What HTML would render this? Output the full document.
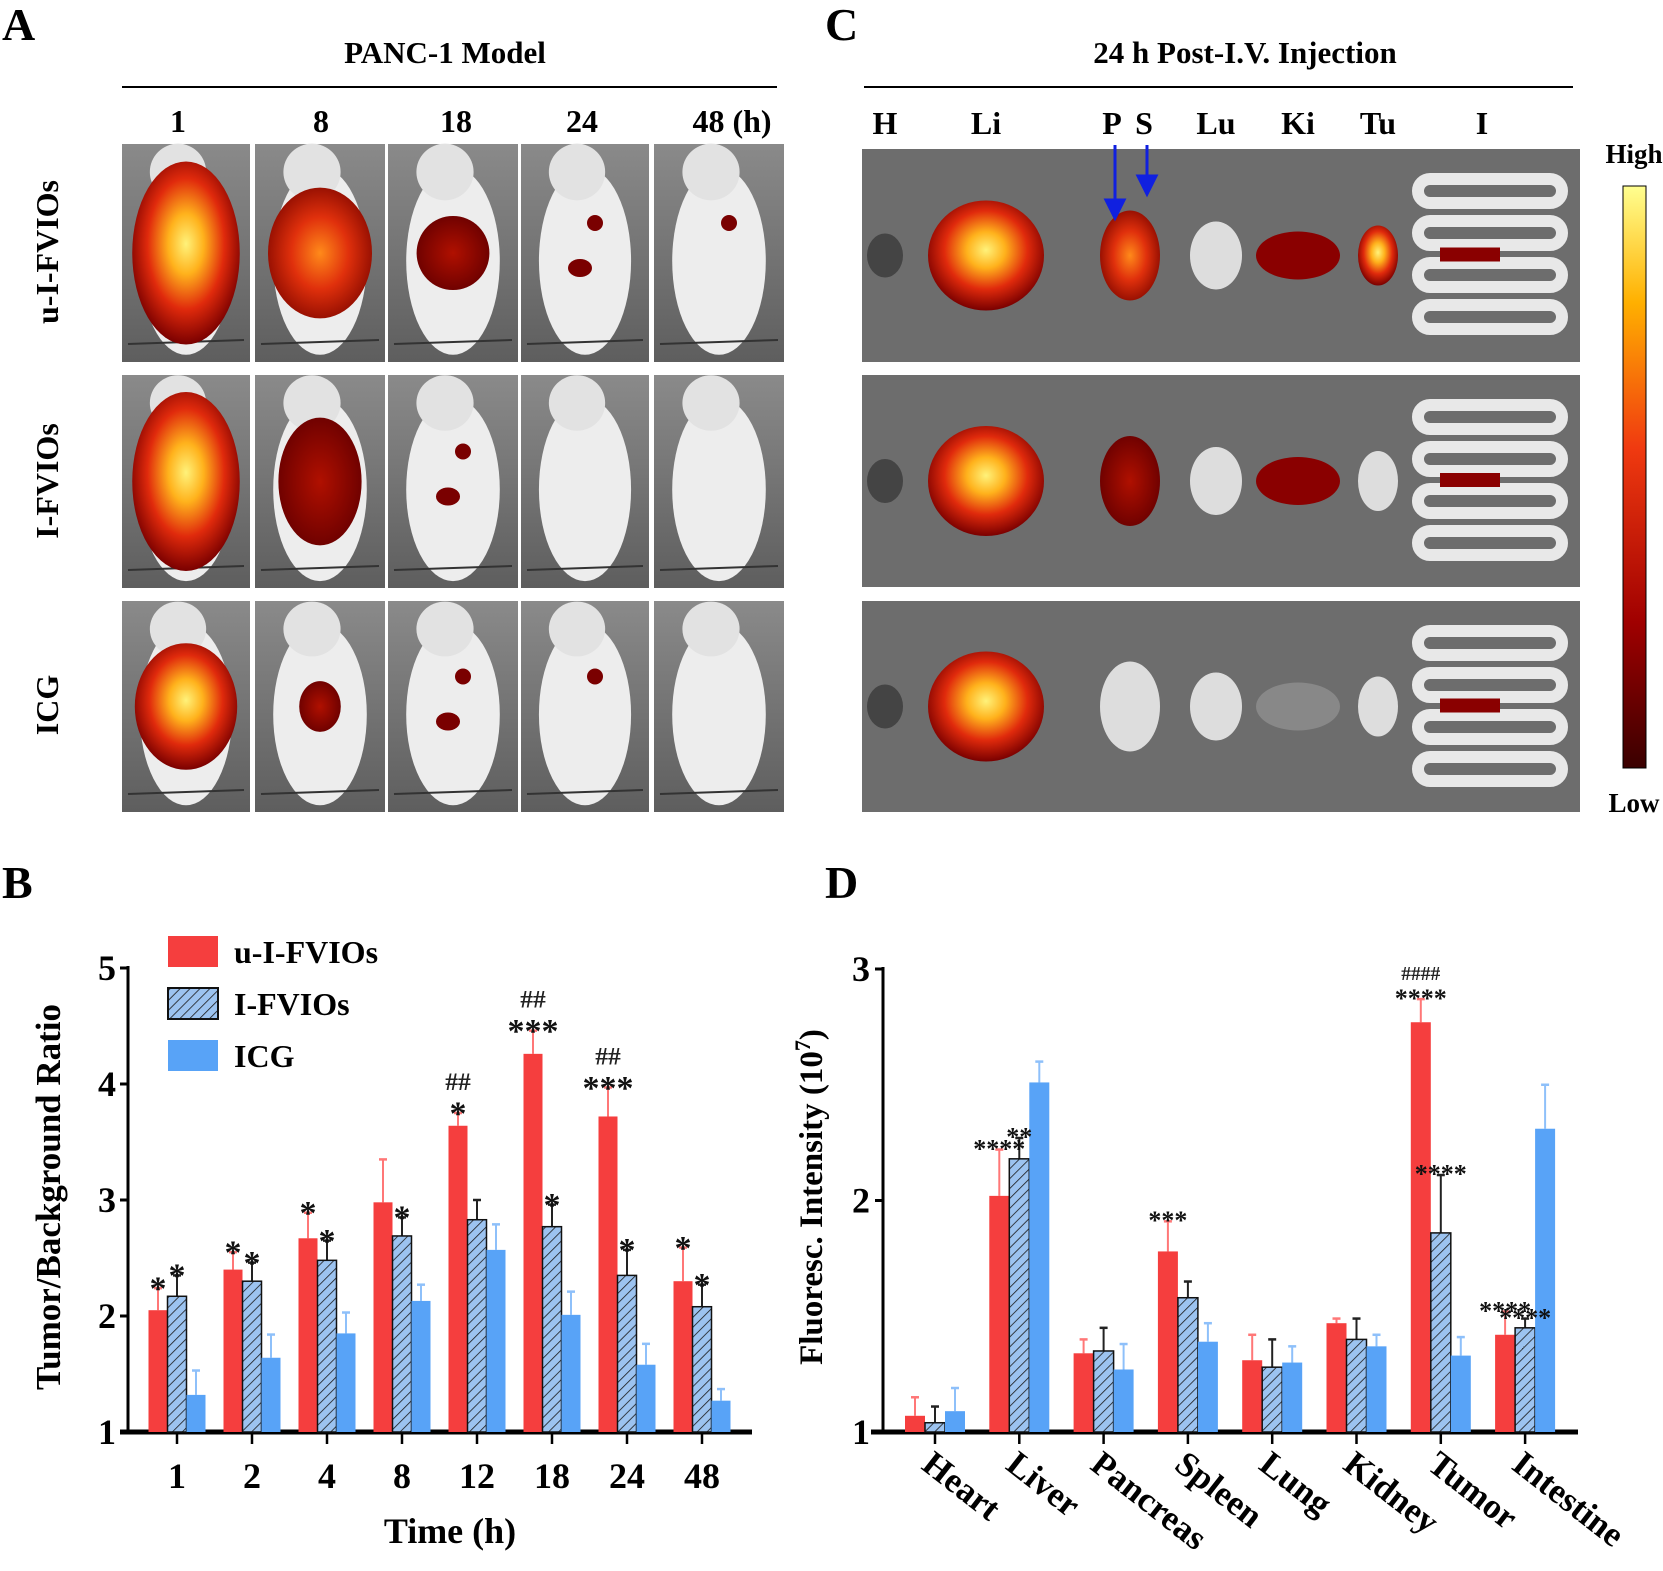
<!DOCTYPE html>
<html><head><meta charset="utf-8"><style>
html,body{margin:0;padding:0;background:#fff}
svg{display:block;font-family:"Liberation Serif",serif;font-weight:bold}
</style></head><body>
<svg id="fig" width="1663" height="1571" viewBox="0 0 1663 1571" xmlns="http://www.w3.org/2000/svg">
<defs>
<pattern id="hatch" patternUnits="userSpaceOnUse" width="7" height="7" patternTransform="rotate(45)">
<rect width="7" height="7" fill="#9cc3f0"/><line x1="0" y1="0" x2="0" y2="7" stroke="#1a1a1a" stroke-width="1.6"/>
</pattern>
<radialGradient id="hot" cx="50%" cy="45%" r="55%"><stop offset="0" stop-color="#fff27a"/><stop offset="0.3" stop-color="#ffb21c"/><stop offset="0.65" stop-color="#e02a0c"/><stop offset="1" stop-color="#7a0000"/></radialGradient>
<radialGradient id="warm" cx="50%" cy="50%" r="55%"><stop offset="0" stop-color="#ff8a1a"/><stop offset="0.5" stop-color="#e0300c"/><stop offset="1" stop-color="#8a0a00"/></radialGradient>
<radialGradient id="dark" cx="50%" cy="50%" r="55%"><stop offset="0" stop-color="#b01000"/><stop offset="1" stop-color="#6a0000"/></radialGradient>
<linearGradient id="cbar" x1="0" y1="0" x2="0" y2="1"><stop offset="0" stop-color="#ffff90"/><stop offset="0.2" stop-color="#ffb000"/><stop offset="0.45" stop-color="#f03a10"/><stop offset="0.75" stop-color="#a00000"/><stop offset="1" stop-color="#3a0000"/></linearGradient>
<linearGradient id="bgA" x1="0" y1="0" x2="0" y2="1"><stop offset="0" stop-color="#8a8a8a"/><stop offset="1" stop-color="#5e5e5e"/></linearGradient>
</defs>

<text x="2" y="40" font-size="46">A</text>
<text x="825" y="40" font-size="46">C</text>
<text x="2" y="898" font-size="46">B</text>
<text x="825" y="898" font-size="46">D</text>

<text x="445" y="63" font-size="31" text-anchor="middle">PANC-1 Model</text>
<line x1="122" y1="87" x2="777" y2="87" stroke="#000" stroke-width="2"/>
<g font-size="32" text-anchor="middle">
<text x="178" y="132">1</text><text x="321" y="132">8</text><text x="456" y="132">18</text><text x="582" y="132">24</text><text x="732" y="132">48 (h)</text>
</g>
<g font-size="32" text-anchor="middle">
<text transform="translate(58,252) rotate(-90)">u-I-FVIOs</text>
<text transform="translate(58,481) rotate(-90)">I-FVIOs</text>
<text transform="translate(58,705) rotate(-90)">ICG</text>
</g>
<g id="mice"></g>

<text x="1245" y="63" font-size="31" text-anchor="middle">24 h Post-I.V. Injection</text>
<line x1="864" y1="87" x2="1573" y2="87" stroke="#000" stroke-width="2"/>
<g font-size="32" text-anchor="middle">
<text x="885" y="134">H</text><text x="986" y="134">Li</text><text x="1112" y="134">P</text><text x="1144" y="134">S</text><text x="1216" y="134">Lu</text><text x="1298" y="134">Ki</text><text x="1378" y="134">Tu</text><text x="1482" y="134">I</text>
</g>
<g id="organs"></g>
<g stroke="#1020e0" stroke-width="3" fill="#1020e0">
<line x1="1115" y1="145" x2="1115" y2="205"/><polygon points="1106,200 1124,200 1115,218"/>
<line x1="1147" y1="145" x2="1147" y2="180"/><polygon points="1138,176 1156,176 1147,194"/>
</g>
<rect x="1623" y="186" width="23" height="582" fill="url(#cbar)" stroke="#000" stroke-width="1"/>
<text x="1634" y="163" font-size="27" text-anchor="middle">High</text>
<text x="1634" y="812" font-size="27" text-anchor="middle">Low</text>

<g id="chartB"></g>
<g id="chartD"></g>
</svg>
<script>
const timeLabels = ["1","2","4","8","12","18","24","48"];
const bRed = [2.05,2.40,2.67,2.98,3.64,4.26,3.72,2.30];
const bRedErr = [2.24,2.55,2.89,3.35,3.75,4.46,3.97,2.59];
const bHatch = [2.17,2.30,2.48,2.69,2.83,2.77,2.35,2.08];
const bHatchErr = [2.35,2.46,2.65,2.85,3.00,2.96,2.57,2.27];
const bIcg = [1.32,1.64,1.85,2.13,2.57,2.01,1.58,1.27];
const bIcgErr = [1.53,1.84,2.03,2.27,2.79,2.21,1.76,1.37];
const bTicks = [1,2,3,4,5];
const bRedStars = ["*","*","*","","*","***","***","*"];
const bRedHash = ["","","","","##","##","##",""];
const bHatchStars = ["*","*","*","*","","*","*","*"];
const organs = ["Heart","Liver","Pancreas","Spleen","Lung","Kidney","Tumor","Intestine"];
const dRed = [1.07,2.02,1.34,1.78,1.31,1.47,2.77,1.42];
const dRedErr = [1.15,2.22,1.40,1.91,1.42,1.49,2.87,1.52];
const dHatch = [1.04,2.18,1.35,1.58,1.28,1.40,1.86,1.45];
const dHatchErr = [1.11,2.27,1.45,1.65,1.40,1.49,2.11,1.49];
const dIcg = [1.09,2.51,1.27,1.39,1.30,1.37,1.33,2.31];
const dIcgErr = [1.19,2.60,1.38,1.47,1.37,1.42,1.41,2.50];
const dTicks = [1,2,3];
const dRedStars = ["","****","","***","","","****","****"];
const dRedHash = ["","","","","","","####",""];
const dHatchStars = ["","**","","","","","****","****"];

const NS="http://www.w3.org/2000/svg";
function mk(parent,tag,attrs,text){const e=document.createElementNS(NS,tag);for(const k in attrs)e.setAttribute(k,attrs[k]);if(text!==undefined)e.textContent=text;parent.appendChild(e);return e;}

const RED="#f53e3e", BLUE="#58a3f7";
function drawBars(g,cfg){
  const {xC,y,bw,series,stars,hash,starSize}=cfg;
  series.forEach((s,si)=>{
    s.vals.forEach((v,i)=>{
      const x=xC(i)+(si-1)*bw-bw/2;
      const top=y(s.errs[i]);
      const el=mk(g,'line',{x1:x+bw/2,x2:x+bw/2,y1:y(v),y2:top,stroke:s.ecol,'stroke-width':2});
      
      
      const cap=mk(g,'line',{x1:x+bw/2-4,x2:x+bw/2+4,y1:top,y2:top,stroke:s.ecol,'stroke-width':2.5});
      
      
      const r=mk(g,'rect',{x:x,y:y(v),width:bw,height:y(cfg.base)-y(v),fill:s.fill,stroke:s.stroke||'none','stroke-width':s.stroke?1.5:0});
      
      
    });
  });
  [0,1].forEach(si=>{
    const s=series[si];const st=stars[si];
    s.vals.forEach((v,i)=>{
      const cx=xC(i)+(si-1)*bw;const top=y(s.errs[i]);
      if(st[i]){const t=mk(g,'text',{x:cx,y:top-4+starSize*0.45,'font-size':starSize,'text-anchor':'middle',fill:'#111'},st[i]);
        
        }
      if(si===0&&hash[i]){const h=mk(g,'text',{x:cx,y:top-6-starSize*0.5,'font-size':starSize*0.75,'text-anchor':'middle',fill:'#222'},hash[i]);
        
        }
    });
  });
}

(function(){
  const g=document.getElementById('chartB');
  const y=v=>1432-(v-1)*116; const xC=i=>177+i*75;
  mk(g,'line',{x1:128,x2:128,y1:966,y2:1432,stroke:'#000','stroke-width':3});
  mk(g,'line',{x1:120,x2:752,y1:1432,y2:1432,stroke:'#000','stroke-width':5});
  bTicks.forEach(t=>{
    mk(g,'line',{x1:120,x2:128,y1:y(t),y2:y(t),stroke:'#000','stroke-width':3});
    const tl=mk(g,'text',{x:116,y:y(t)+12,'font-size':36,'text-anchor':'end'},String(t));
    
    
  });
  timeLabels.forEach((l,i)=>{
    mk(g,'line',{x1:xC(i),x2:xC(i),y1:1432,y2:1444,stroke:'#000','stroke-width':2.5});
    const t=mk(g,'text',{x:xC(i),y:1488,'font-size':36,'text-anchor':'middle'},l);
    
    
  });
  const xt=mk(g,'text',{x:450,y:1543,'font-size':36,'text-anchor':'middle'},'Time (h)');
  
  
  const yt=mk(g,'text',{transform:'translate(60,1197) rotate(-90)','font-size':35,'text-anchor':'middle'},'Tumor/Background Ratio');
  
  
  drawBars(g,{xC,y,bw:19,base:1,starSize:34,
    series:[{name:'u-i-fvios',vals:bRed,errs:bRedErr,fill:RED,ecol:'#f77'},
            {name:'i-fvios',vals:bHatch,errs:bHatchErr,fill:'url(#hatch)',stroke:'#111',ecol:'#222'},
            {name:'icg',vals:bIcg,errs:bIcgErr,fill:BLUE,ecol:'#8ec0fa'}],
    stars:[bRedStars,bHatchStars],hash:bRedHash});
  const items=[['u-I-FVIOs',RED,null],['I-FVIOs','url(#hatch)','#111'],['ICG',BLUE,null]];
  items.forEach((it,k)=>{
    const yy=936+k*52;
    const r=mk(g,'rect',{x:168,y:yy,width:50,height:31,fill:it[1],stroke:it[2]||'none','stroke-width':2});
    
    
    const t=mk(g,'text',{x:234,y:yy+27,'font-size':32},it[0]);
    
    
  });
})();

(function(){
  const g=document.getElementById('chartD');
  const y=v=>1432-(v-1)*231.5; const xC=i=>935+i*84.3;
  mk(g,'line',{x1:883,x2:883,y1:967,y2:1432,stroke:'#000','stroke-width':3});
  mk(g,'line',{x1:871,x2:1578,y1:1432,y2:1432,stroke:'#000','stroke-width':5});
  dTicks.forEach(t=>{
    mk(g,'line',{x1:875,x2:883,y1:y(t),y2:y(t),stroke:'#000','stroke-width':3});
    const tl=mk(g,'text',{x:870,y:y(t)+12,'font-size':36,'text-anchor':'end'},String(t));
    
    
  });
  organs.forEach((l,i)=>{
    mk(g,'line',{x1:xC(i),x2:xC(i),y1:1432,y2:1444,stroke:'#000','stroke-width':2.5});
    const t=mk(g,'text',{transform:`translate(${xC(i)-15},${1468}) rotate(38)`,'font-size':35},l);
    
    
  });
  const yt=mk(g,'text',{transform:'translate(822,1197) rotate(-90)','font-size':33,'text-anchor':'middle'});
  
  
  yt.innerHTML='Fluoresc. Intensity  (10<tspan dy="-12" font-size="22">7</tspan><tspan dy="12">)</tspan>';
  drawBars(g,{xC,y,bw:20,base:1,starSize:26,
    series:[{name:'u-i-fvios',vals:dRed,errs:dRedErr,fill:RED,ecol:'#f77'},
            {name:'i-fvios',vals:dHatch,errs:dHatchErr,fill:'url(#hatch)',stroke:'#111',ecol:'#222'},
            {name:'icg',vals:dIcg,errs:dIcgErr,fill:BLUE,ecol:'#8ec0fa'}],
    stars:[dRedStars,dHatchStars],hash:dRedHash});
})();

(function(){
  const g=document.getElementById('mice');
  const cols=[[122,250],[255,385],[388,518],[521,649],[654,784]];
  const rows=[[144,362],[375,588],[601,812]];
  const sig=[
    [['hot',0.42,0.42],['warm',0.4,0.3],['dark',0.28,0.17],['spots',2],['spots',1]],
    [['hot',0.42,0.42],['dark',0.32,0.3],['spots',2],['none'],['none']],
    [['hot',0.4,0.3],['dark',0.16,0.12],['spots',2],['spots',1],['none']]
  ];
  rows.forEach((r,ri)=>cols.forEach((c,ci)=>{
    const w=c[1]-c[0],h=r[1]-r[0],cx=c[0]+w/2,cy=r[0]+h/2;
    const cell=mk(g,'g',{});
    
    
    mk(cell,'rect',{x:c[0],y:r[0],width:w,height:h,fill:'url(#bgA)'});
    mk(cell,'ellipse',{cx:cx,cy:cy+8,rx:w*0.36,ry:h*0.43,fill:'#ededed'});
    mk(cell,'ellipse',{cx:cx-8,cy:r[0]+28,rx:w*0.22,ry:h*0.13,fill:'#e2e2e2'});
    mk(cell,'line',{x1:c[0]+6,x2:c[1]-6,y1:r[1]-18,y2:r[1]-22,stroke:'#333','stroke-width':2});
    const s=sig[ri][ci];
    if(s[0]==='spots'){
      mk(cell,'circle',{cx:cx+10,cy:cy-30,r:8,fill:'#7a0000'});
      if(s[1]>1)mk(cell,'ellipse',{cx:cx-5,cy:cy+15,rx:12,ry:9,fill:'#7a0000'});
    } else if(s[0]!=='none'){
      mk(cell,'ellipse',{cx:cx,cy:cy,rx:w*s[1],ry:h*s[2],fill:'url(#'+s[0]+')'});
    }
  }));
})();

(function(){
  const g=document.getElementById('organs');
  const rows=[[149,362],[375,587],[601,812]];
  const organX=[885,986,1130,1216,1298,1378,1490];
  const organFill=[
    ['#444','url(#hot)','url(#warm)','#ddd','#8a0000','url(#hot)','#e8e8e8'],
    ['#444','url(#hot)','url(#dark)','#ddd','#8a0000','#ddd','#e8e8e8'],
    ['#444','url(#hot)','#ddd','#ddd','#888','#ddd','#e8e8e8']
  ];
  const organSize=[[18,22],[58,55],[30,45],[26,34],[42,24],[20,30],[65,85]];
  rows.forEach((r,ri)=>{
    const row=mk(g,'g',{});
    
    
    mk(row,'rect',{x:862,y:r[0],width:718,height:r[1]-r[0],fill:'#6d6d6d'});
    organX.forEach((x,k)=>{
      const cy=(r[0]+r[1])/2;
      if(k===6){
        for(let j=0;j<4;j++)mk(row,'rect',{x:x-72,y:r[0]+30+j*42,width:144,height:24,rx:12,fill:'none',stroke:'#e8e8e8','stroke-width':12});
        mk(row,'rect',{x:x-50,y:cy-8,width:60,height:14,fill:'#8a0000'});
      } else {
        mk(row,'ellipse',{cx:x,cy:cy,rx:organSize[k][0],ry:organSize[k][1],fill:organFill[ri][k]});
      }
    });
  });
})();
</script>
</body></html>
